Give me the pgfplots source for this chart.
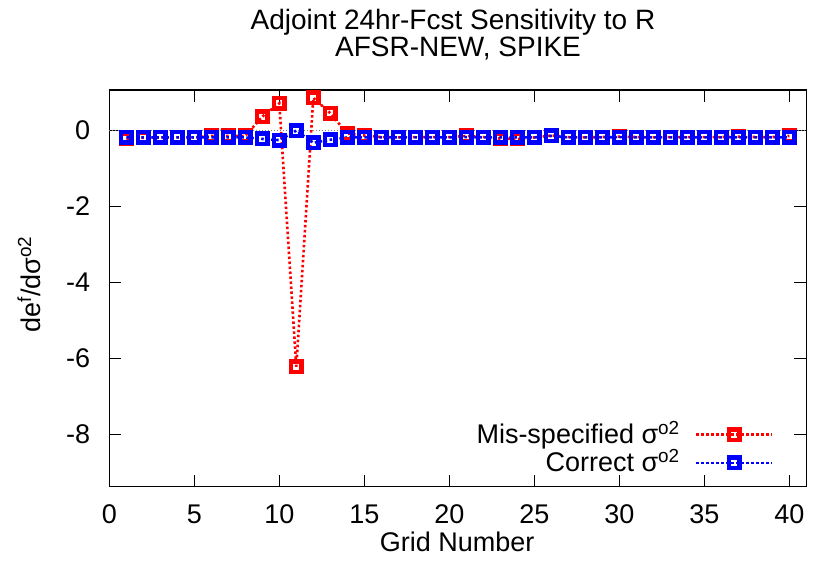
\documentclass[border=0pt]{standalone}
\usepackage{fontspec}
\setmainfont{Liberation Sans}
\usepackage{pgfplots}
\pgfplotsset{compat=1.18}
\definecolor{gpred}{RGB}{255,0,0}
\definecolor{gpblue}{RGB}{0,0,255}
\begin{document}
\fontsize{27bp}{28.4bp}\selectfont
\begin{tikzpicture}
\useasboundingbox (0,0) rectangle (814bp,571bp);
\node[anchor=base, inner sep=0pt, font=\fontsize{28bp}{30bp}\selectfont] at (453bp,541bp) {Adjoint 24hr-Fcst Sensitivity to R};
\node[anchor=base, inner sep=0pt, font=\fontsize{28bp}{30bp}\selectfont] at (458bp,514.3bp) {AFSR-NEW, SPIKE};
\begin{axis}[
  at={(109.3bp,84.3bp)}, anchor=south west, scale only axis,
  width=697bp, height=396.7bp,
  xmin=0, xmax=41, ymin=-9.38, ymax=1.07,
  xtick={0,5,...,40}, ytick={-8,-6,-4,-2,0},
  yticklabels={-8,-6,-4,-2,0},
  xticklabels={0,5,10,15,20,25,30,35,40},
  tick align=inside, tick pos=both,
  major tick length=12bp,
  axis line style={line width=1.5bp},
  every tick/.style={line width=1.5bp, black},
  xticklabel style={anchor=north, inner sep=0pt, yshift=-18bp},
  yticklabel style={anchor=east, inner sep=0pt, xshift=-19bp},
  xlabel={Grid Number},
  ylabel={de\textsuperscript{f}/dσ\textsuperscript{o2}},
  xlabel style={at={(axis description cs:0.499,-0.164)}, anchor=base, inner sep=0pt},
  ylabel style={at={(axis description cs:-0.0994,0.51)}, anchor=base, inner sep=0pt},
  clip=false,
  legend style={draw=none, fill=none, at={(rel axis cs:0.953,0.0857)}, anchor=east,
    legend cell align=right, inner sep=0pt, column sep=13bp, row sep=0pt,
    nodes={text height=19bp, text depth=9.4bp, inner ysep=0pt, inner xsep=2bp}},
  legend plot pos=right,
  legend image code/.code={
    \draw[#1, mark=none] (0bp,4bp) -- (76bp,4bp);
    \draw[#1, only marks] plot coordinates {(38bp,4bp)};
  },
]
\addplot[gray, dotted, line width=1bp, forget plot] coordinates {(0,0) (41,0)};
\addplot[gpred, line width=2.6bp, dash pattern=on 2.5bp off 2.5bp, mark=square, mark size=5.25bp, mark options={solid, line width=4.5bp}] coordinates {
(1,-0.21) (2,-0.19) (3,-0.18) (4,-0.18) (5,-0.18) (6,-0.14) (7,-0.14) (8,-0.14)
(9,0.37) (10,0.72) (11,-6.22) (12,0.86) (13,0.46) (14,-0.08) (15,-0.13)
(16,-0.17) (17,-0.18) (18,-0.17) (19,-0.17) (20,-0.17) (21,-0.14) (22,-0.17)
(23,-0.21) (24,-0.22) (25,-0.18) (26,-0.13) (27,-0.17) (28,-0.18) (29,-0.17)
(30,-0.16) (31,-0.17) (32,-0.18) (33,-0.17) (34,-0.17) (35,-0.17) (36,-0.17)
(37,-0.16) (38,-0.17) (39,-0.17) (40,-0.14)
};
\addlegendentry{Mis-specified σ\textsuperscript{o2}}
\addplot[gpblue, line width=2.6bp, dash pattern=on 2.5bp off 2.5bp, mark=square, mark size=5.25bp, mark options={solid, line width=4.5bp}] coordinates {
(1,-0.18) (2,-0.18) (3,-0.18) (4,-0.18) (5,-0.18) (6,-0.18) (7,-0.18) (8,-0.18)
(9,-0.22) (10,-0.25) (11,0.0) (12,-0.32) (13,-0.24) (14,-0.18) (15,-0.18)
(16,-0.18) (17,-0.18) (18,-0.18) (19,-0.18) (20,-0.18) (21,-0.17) (22,-0.18)
(23,-0.18) (24,-0.18) (25,-0.18) (26,-0.14) (27,-0.18) (28,-0.18) (29,-0.18)
(30,-0.17) (31,-0.18) (32,-0.18) (33,-0.18) (34,-0.18) (35,-0.18) (36,-0.18)
(37,-0.18) (38,-0.18) (39,-0.18) (40,-0.18)
};
\addlegendentry{Correct σ\textsuperscript{o2}}
\end{axis}
\end{tikzpicture}
\end{document}
